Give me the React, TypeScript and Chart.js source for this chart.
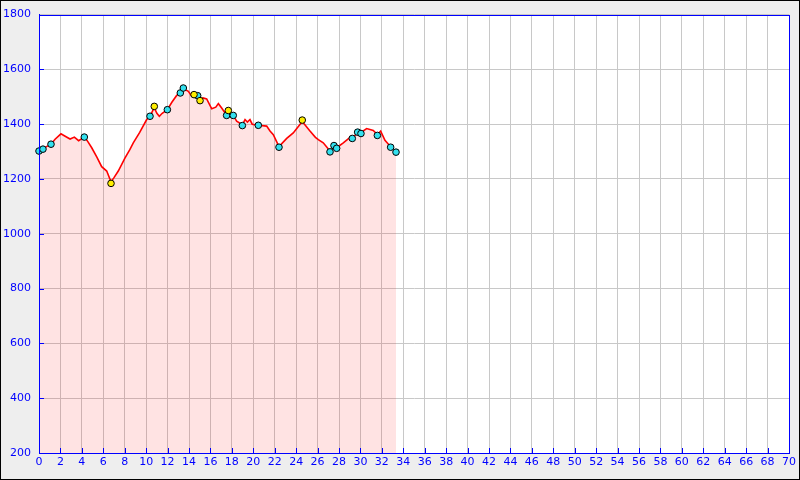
import React, { useEffect, useRef } from "react";
import { Chart, registerables } from "chart.js";

Chart.register(...registerables);

// Elevation profile (distance km, elevation m)
const profileKm = [
  0.0, 0.37, 0.7, 1.12, 1.5, 2.05, 2.4, 2.9, 3.3, 3.7, 4.23, 4.5, 4.92, 5.4, 5.85, 6.32, 6.72, 7.0,
  7.4, 8.03, 8.49, 8.8, 9.4, 10.05, 10.36, 10.65, 10.76, 11.0, 11.23, 11.5, 11.98, 12.4, 12.85,
  13.19, 13.47, 13.94, 14.2, 14.47, 14.81, 15.03, 15.3, 15.65, 16.12, 16.5, 16.74, 17.05, 17.3,
  17.51, 17.67, 18.13, 18.45, 18.98, 19.23, 19.45, 19.69, 19.9, 20.47, 21.25, 21.56, 21.87, 22.4,
  23.12, 23.73, 24.57, 25.29, 25.8, 26.07, 26.53, 27.16, 27.53, 27.78, 28.4, 29.03, 29.24, 29.74,
  30.05, 30.58, 31.2, 31.58, 31.89, 32.29, 32.82, 33.32,
];
const profileElev = [
  1302, 1309, 1318, 1327, 1345, 1365, 1357, 1346, 1353, 1340, 1353, 1340, 1314, 1280, 1245, 1229, 1190, 1205,
  1229, 1277, 1308, 1332, 1370, 1417, 1429, 1452, 1460, 1440, 1429, 1440, 1453, 1480, 1505,
  1514, 1530, 1520, 1505, 1508, 1500, 1492, 1496, 1492, 1456, 1462, 1475, 1459, 1445,
  1438, 1445, 1432, 1411, 1398, 1417, 1408, 1417, 1400, 1396, 1393, 1375, 1362, 1318,
  1348, 1368, 1410, 1375, 1352, 1344, 1332, 1302, 1318, 1314, 1332, 1352, 1350, 1368,
  1370, 1384, 1377, 1362, 1375, 1341, 1318, 1298,
];

// Waypoint markers
const cyanKm = [0.0, 0.37, 1.12, 4.23, 10.36, 11.98, 13.19, 13.47, 14.81, 17.51, 18.13, 18.98, 20.47, 22.4, 27.16, 27.53, 27.78, 29.24, 29.74, 30.05, 31.58, 32.82, 33.32];
const cyanElev = [1302, 1309, 1327, 1353, 1429, 1453, 1514, 1532, 1504, 1432, 1432, 1395, 1396, 1316, 1299, 1322, 1312, 1348, 1371, 1366, 1359, 1316, 1298];
const yellowKm = [6.72, 10.76, 14.47, 15.03, 17.67, 24.57];
const yellowElev = [1184, 1465, 1508, 1486, 1450, 1415];

const xMin = 0;
const xMax = 70;
const xStep = 2;
const yMin = 200;
const yMax = 1800;
const yStep = 200;

const BLUE = "#0000ff";

const framePlugin = {
  id: "frame",
  beforeDraw(chart: any) {
    const { ctx, chartArea: a, width, height } = chart;
    ctx.save();
    ctx.fillStyle = "#eeeeee";
    ctx.fillRect(0, 0, width, height);
    ctx.fillStyle = "#ffffff";
    ctx.fillRect(a.left, a.top, a.right - a.left, a.bottom - a.top);
    ctx.restore();
  },
  afterDraw(chart: any) {
    const { ctx, chartArea: a, width, height, scales } = chart;
    ctx.save();
    ctx.strokeStyle = BLUE;
    ctx.lineWidth = 1;
    ctx.beginPath();
    scales.x.ticks.forEach((t: any) => {
      const px = Math.round(scales.x.getPixelForValue(t.value)) + 0.5;
      ctx.moveTo(px, a.bottom);
      ctx.lineTo(px, a.bottom - 5);
    });
    scales.y.ticks.forEach((t: any) => {
      const py = Math.round(scales.y.getPixelForValue(t.value)) + 0.5;
      ctx.moveTo(a.left, py);
      ctx.lineTo(a.left + 5, py);
    });
    ctx.stroke();
    ctx.strokeRect(Math.round(a.left) + 0.5, Math.round(a.top) + 0.5, Math.round(a.right - a.left), Math.round(a.bottom - a.top));
    ctx.strokeStyle = "#000000";
    ctx.strokeRect(0.5, 0.5, width - 1, height - 1);
    ctx.restore();
  },
};

export default function App() {
  const ref = useRef<HTMLCanvasElement>(null);

  useEffect(() => {
    if (!ref.current) return;
    const profile = profileKm.map((x, i) => ({ x, y: profileElev[i] }));
    const cyan = cyanKm.map((x, i) => ({ x, y: cyanElev[i] }));
    const yellow = yellowKm.map((x, i) => ({ x, y: yellowElev[i] }));
    const font = { family: "'DejaVu Sans', sans-serif", size: 11 };

    const chart = new Chart(ref.current, {
      type: "line",
      data: {
        datasets: [
          {
            type: "scatter",
            data: yellow,
            pointRadius: 3.3,
            pointBackgroundColor: "#ffee00",
            pointBorderColor: "#000000",
            pointBorderWidth: 1,
            showLine: false,
            clip: false,
            order: 0,
          },
          {
            type: "scatter",
            data: cyan,
            pointRadius: 3.3,
            pointBackgroundColor: "#33e0ee",
            pointBorderColor: "#000000",
            pointBorderWidth: 1,
            showLine: false,
            clip: false,
            order: 1,
          },
          {
            type: "line",
            data: profile,
            borderColor: "#ff0000",
            borderWidth: 1.6,
            backgroundColor: "rgba(255,0,0,0.11)",
            fill: "start",
            pointRadius: 0,
            tension: 0,
            order: 2,
          },
        ],
      } as any,
      options: {
        animation: false,
        responsive: false,
        layout: { padding: { top: 13, right: 11, left: 0, bottom: 0 } },
        plugins: { legend: { display: false }, tooltip: { enabled: false } },
        scales: {
          x: {
            type: "linear",
            min: xMin,
            max: xMax,
            ticks: { stepSize: xStep, color: BLUE, font, padding: 3, maxRotation: 0, autoSkip: false, callback: (v: any) => String(v) },
            grid: { color: "#c8c8c8", drawTicks: false },
            border: { color: BLUE, width: 1 },
            afterFit: (s: any) => { s.height = 27; },
          },
          y: {
            type: "linear",
            min: yMin,
            max: yMax,
            ticks: { stepSize: yStep, color: BLUE, font, padding: 8, callback: (v: any) => String(v) },
            grid: { color: "#c8c8c8", drawTicks: false },
            border: { color: BLUE, width: 1 },
            afterFit: (s: any) => { s.width = 39; },
          },
        },
      } as any,
      plugins: [framePlugin],
    });
    return () => chart.destroy();
  }, []);

  return (
    <div style={{ position: "fixed", left: 0, top: 0, width: 800, height: 480 }}>
      <canvas ref={ref} width={800} height={480} style={{ display: "block", width: 800, height: 480 }} />
    </div>
  );
}
